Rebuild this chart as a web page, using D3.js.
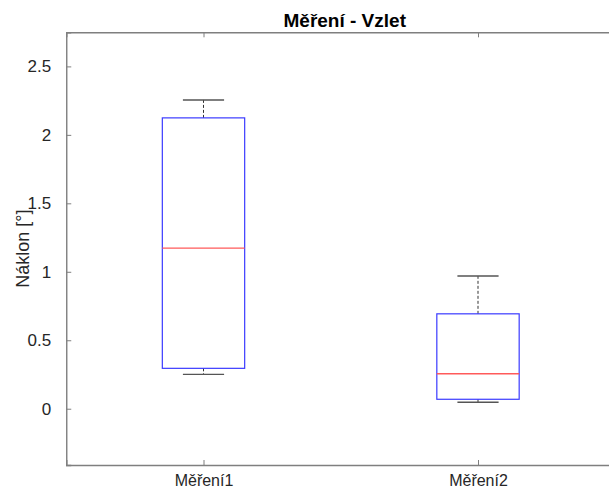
<!DOCTYPE html>
<html>
<head>
<meta charset="utf-8">
<script src="https://cdn.jsdelivr.net/npm/d3@7"></script>
<style>
  body { margin: 0; background: #fff; }
  svg { display: block; font-family: "Liberation Sans", Arial, sans-serif; }
</style>
</head>
<body>
<svg id="chart" width="609" height="490"></svg>
<script>
// values
const categories = ["Měření1", "Měření2"];
const whiskerHigh = [2.255, 0.969];
const q3 = [2.124, 0.693];
const median = [1.173, 0.255];
const q1 = [0.295, 0.069];
const whiskerLow = [0.251, 0.047];
const yTicks = [0, 0.5, 1, 1.5, 2, 2.5];

const width = 609, height = 490;
const margin = { top: 32.3, left: 66.25, bottom: 25, right: -6.25 };
const x0 = margin.left, x1 = width - margin.right;
const y0 = margin.top, y1 = height - margin.bottom;

const svg = d3.select("#chart");

// group positions 1..n, limits n ± 0.5 like matlab boxplot
const x = d3.scaleLinear().domain([0.5, categories.length + 0.5]).range([x0, x1]);
const y = d3.scaleLinear().domain([-0.411, 2.749]).range([y1, y0]);

const axisColor = "#7f7f7f";
const textColor = "#262626";

const data = categories.map((c, i) => ({
  name: c, pos: i + 1,
  lo: whiskerLow[i], q1: q1[i], med: median[i], q3: q3[i], hi: whiskerHigh[i]
}));

const boxW = 0.15;   // half width, x units
const capW = 0.075;

const g = svg.append("g");

// whiskers (dashed) + caps
g.selectAll(".whisk").data(data).enter()
  .append("g")
  .each(function(d) {
    const s = d3.select(this);
    s.append("line")
      .attr("x1", x(d.pos)).attr("x2", x(d.pos))
      .attr("y1", y(d.q3)).attr("y2", y(d.hi))
      .attr("stroke", "#333").attr("stroke-width", 1)
      .attr("stroke-dasharray", "3,2");
    s.append("line")
      .attr("x1", x(d.pos)).attr("x2", x(d.pos))
      .attr("y1", y(d.q1)).attr("y2", y(d.lo))
      .attr("stroke", "#333").attr("stroke-width", 1)
      .attr("stroke-dasharray", "3,2");
    [d.hi, d.lo].forEach(v => {
      s.append("line")
        .attr("x1", x(d.pos - capW)).attr("x2", x(d.pos + capW))
        .attr("y1", y(v)).attr("y2", y(v))
        .attr("stroke", "#555").attr("stroke-width", 1.4);
    });
  });

// boxes
g.selectAll(".box").data(data).enter()
  .append("rect")
  .attr("class", "box")
  .attr("x", d => x(d.pos - boxW))
  .attr("width", d => x(d.pos + boxW) - x(d.pos - boxW))
  .attr("y", d => y(d.q3))
  .attr("height", d => y(d.q1) - y(d.q3))
  .attr("fill", "none")
  .attr("stroke", "#3a3aff")
  .attr("stroke-width", 1.2);

// medians
g.selectAll(".med").data(data).enter()
  .append("line")
  .attr("x1", d => x(d.pos - boxW))
  .attr("x2", d => x(d.pos + boxW))
  .attr("y1", d => y(d.med))
  .attr("y2", d => y(d.med))
  .attr("stroke", "#ff5a5a")
  .attr("stroke-width", 1.4);

// axes box with inward ticks
const tickLen = 5;
const axL = svg.append("g").attr("transform", `translate(${x0},0)`)
  .call(d3.axisLeft(y).tickValues(yTicks).tickSize(-tickLen).tickPadding(15).tickFormat(d3.format("")));
const axR = svg.append("g").attr("transform", `translate(${x1},0)`)
  .call(d3.axisRight(y).tickValues(yTicks).tickSize(-tickLen).tickFormat(""));
const axB = svg.append("g").attr("transform", `translate(0,${y1})`)
  .call(d3.axisBottom(x).tickValues(data.map(d => d.pos)).tickSize(-tickLen).tickPadding(10)
    .tickFormat((d, i) => categories[i]));
const axT = svg.append("g").attr("transform", `translate(0,${y0})`)
  .call(d3.axisTop(x).tickValues(data.map(d => d.pos)).tickSize(-tickLen).tickFormat(""));

[axL, axR, axB, axT].forEach(a => {
  a.select(".domain").attr("stroke", axisColor).attr("stroke-width", 1.4);
  a.selectAll(".tick line").attr("stroke", axisColor);
  a.selectAll("text").attr("fill", textColor).attr("font-family", "'Liberation Sans', Arial, sans-serif");
});
axL.selectAll("text").attr("font-size", 17);
axB.selectAll("text").attr("font-size", 16);

// title
svg.append("text")
  .attr("x", (x0 + x1) / 2 + 4)
  .attr("y", 27)
  .attr("text-anchor", "middle")
  .attr("font-size", 19)
  .attr("font-weight", "bold")
  .attr("fill", "#000")
  .text("Měření - Vzlet");

// y label
svg.append("text")
  .attr("transform", `translate(29,${(y0 + y1) / 2}) rotate(-90)`)
  .attr("text-anchor", "middle")
  .attr("font-size", 18)
  .attr("fill", textColor)
  .text("Náklon [°]");
</script>
</body>
</html>
